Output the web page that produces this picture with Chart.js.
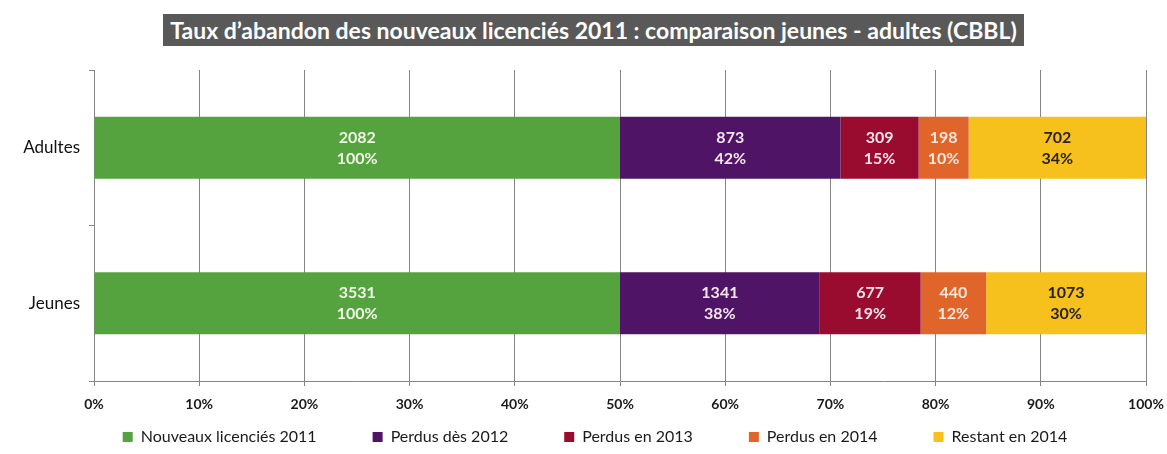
<!DOCTYPE html>
<html lang="fr">
<head>
  <meta charset="UTF-8">
  <title>Taux d'abandon des nouveaux licenciés 2011</title>
  <style>
    body {
      margin: 0;
      background: #ffffff;
      font-family: Lato, 'Open Sans', sans-serif;
    }
    .wrap {
      position: relative;
      width: 1167px;
      height: 454px;
    }
    .title {
      position: absolute;
      left: 163px;
      top: 14px;
      width: 861px;
      height: 32px;
      line-height: 32px;
      background: #595959;
      color: #ffffff;
      font-size: 23px;
      font-weight: bold;
      text-align: center;
      white-space: nowrap;
    }
    canvas { position: absolute; left: 0; top: 0; }
  </style>
</head>
<body>
  <div class="wrap">
    <canvas id="chart" width="1167" height="454"></canvas>
    <div class="title">Taux d’abandon des nouveaux licenciés 2011 : comparaison jeunes - adultes (CBBL)</div>
  </div>

  <script src="https://cdn.jsdelivr.net/npm/chart.js@4.4.0/dist/chart.umd.min.js"></script>
  <script>
    // categories (top to bottom)
    const groups = ['Adultes', 'Jeunes'];
    // series names
    const seriesNames = ['Nouveaux licenciés 2011', 'Perdus dès 2012', 'Perdus en 2013', 'Perdus en 2014', 'Restant en 2014'];
    // counts per series, [Adultes, Jeunes]
    const nouveaux = [2082, 3531];
    const perdus2012 = [873, 1341];
    const perdus2013 = [309, 677];
    const perdus2014 = [198, 440];
    const restant2014 = [702, 1073];
    const xTicks = [0, 10, 20, 30, 40, 50, 60, 70, 80, 90, 100];

    const colors = ['#55a33f', '#4f1466', '#990b2f', '#e0652a', '#f7c11d'];
    const labelColors = ['#f2f7e8', '#f3e6f0', '#f8e4ea', '#fbe8dc', '#2a2220'];
    const seriesCounts = [nouveaux, perdus2012, perdus2013, perdus2014, restant2014];

    const LEGEND_PAD = 56;

    // each bar: new licensees fill half, the losses + remaining split the other half
    const datasets = seriesCounts.map((counts, i) => ({
      label: seriesNames[i],
      data: counts.map((c, g) => c / (2 * nouveaux[g]) * 100),
      counts: counts,
      backgroundColor: colors[i],
      borderWidth: 0,
      barPercentage: 0.4,
      categoryPercentage: 1
    }));

    const barLabels = {
      id: 'barLabels',
      afterDatasetsDraw(chart) {
        const ctx = chart.ctx;
        ctx.save();
        ctx.font = 'bold 16px Lato, sans-serif';
        ctx.textAlign = 'center';
        ctx.textBaseline = 'middle';
        chart.data.datasets.forEach((ds, i) => {
          const meta = chart.getDatasetMeta(i);
          meta.data.forEach((bar, g) => {
            const cx = (bar.x + bar.base) / 2;
            const pct = Math.round(ds.counts[g] / nouveaux[g] * 100) + '%';
            ctx.fillStyle = labelColors[i];
            ctx.fillText(String(ds.counts[g]), cx, bar.y - 10);
            ctx.fillText(pct, cx, bar.y + 11);
          });
        });
        ctx.restore();
      }
    };

    // wide horizontal spacing between legend items without the tall vertical padding
    const legendTweak = {
      id: 'legendTweak',
      beforeLayout(chart) {
        const lg = chart.legend;
        if (lg && !lg._tweaked) {
          const fit = lg.fit.bind(lg);
          lg.fit = function () { fit(); this.height = 30; };
          lg._tweaked = true;
        }
      },
      afterLayout(chart) {
        const lg = chart.legend;
        lg.top -= LEGEND_PAD - 5;
        lg.left += 17;
        lg.right += 17;
      }
    };

    new Chart(document.getElementById('chart'), {
      type: 'bar',
      data: { labels: groups, datasets: datasets },
      options: {
        indexAxis: 'y',
        responsive: false,
        animation: false,
        layout: { padding: { top: 70, left: 10, right: 21, bottom: 0 } },
        plugins: {
          legend: {
            position: 'bottom',
            labels: {
              boxWidth: 10,
              boxHeight: 10,
              padding: LEGEND_PAD,
              color: '#1a1a1a',
              font: { family: 'Lato', size: 16 }
            }
          },
          tooltip: { enabled: false }
        },
        scales: {
          x: {
            stacked: true,
            min: 0,
            max: 100,
            afterBuildTicks: (scale) => { scale.ticks = xTicks.map(v => ({ value: v })); },
            afterFit: (scale) => {
              scale.height = 43;
              scale.paddingLeft = 0;
              scale.paddingRight = 0;
            },
            ticks: {
              color: '#1a1a1a',
              font: { family: 'Lato', size: 14, weight: 'bold' },
              padding: 10,
              callback: (v) => v + '%'
            },
            grid: { color: '#858585', lineWidth: 1, tickLength: 5 },
            border: { color: '#858585' }
          },
          y: {
            stacked: true,
            afterFit: (scale) => { scale.width = 84; },
            ticks: {
              color: '#111111',
              font: { family: 'Lato', size: 17 },
              padding: 9
            },
            grid: { offset: true, drawOnChartArea: false, color: '#858585', tickLength: 5 },
            border: { color: '#858585' }
          }
        }
      },
      plugins: [barLabels, legendTweak]
    });
  </script>
</body>
</html>
